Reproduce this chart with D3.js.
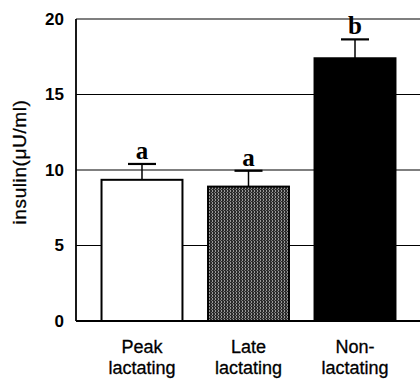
<!DOCTYPE html>
<html>
<head>
<meta charset="utf-8">
<script src="https://cdn.jsdelivr.net/npm/d3@7"></script>
<style>
  body { margin: 0; background: #fff; }
  .tick text { font-family: "Liberation Sans", Arial, sans-serif; font-weight: bold; }
</style>
</head>
<body>
<div id="chart"></div>
<script>
// data
const groups = ["Peak lactating", "Late lactating", "Non-lactating"]
const labelLines = [["Peak", "lactating"], ["Late", "lactating"], ["Non-", "lactating"]]
const means = [9.35, 8.9, 17.4]
const errors = [1.05, 1.05, 1.25]
const letters = ["a", "a", "b"]
const yTicks = [0, 5, 10, 15, 20]

const svgWidth = 420
const svgHeight = 385
let margin = { top: 19, right: 0, bottom: 64, left: 76 }
let width = svgWidth - margin.left - margin.right
let height = svgHeight - margin.top - margin.bottom

let svg = d3.select("#chart").append("svg")
  .attr("width", svgWidth)
  .attr("height", svgHeight)

// stippled fill for the middle bar
let defs = svg.append("defs")
let pat = defs.append("pattern")
  .attr("id", "stipple")
  .attr("width", 3).attr("height", 3)
  .attr("patternUnits", "userSpaceOnUse")
pat.append("rect").attr("width", 3).attr("height", 3).attr("fill", "#2a2a2a")
pat.append("rect").attr("x", 1).attr("y", 0).attr("width", 1).attr("height", 2).attr("fill", "#9a9a9a")
pat.append("rect").attr("x", 0).attr("y", 2).attr("width", 1).attr("height", 1).attr("fill", "#777")

let chartGroup = svg.append("g")
  .attr("transform", `translate(${margin.left}, ${margin.top})`)

let x = d3.scaleBand()
  .domain(groups)
  .range([17, 328])
  .paddingInner(0.24)
  .paddingOuter(0.08)

let y = d3.scaleLinear()
  .domain([0, 20])
  .range([height, 0])

// gridlines
chartGroup.selectAll(".grid")
  .data(yTicks.filter(d => d > 0))
  .enter().append("line")
  .attr("x1", 0).attr("x2", width)
  .attr("y1", d => y(d)).attr("y2", d => y(d))
  .attr("stroke", "#000").attr("stroke-width", 1.2)

// y axis
let yAxis = chartGroup.append("g")
  .call(d3.axisLeft(y).tickValues(yTicks).tickSize(0).tickPadding(12))
yAxis.select(".domain").remove()
yAxis.selectAll("text").attr("font-size", 17).attr("fill", "#000")

chartGroup.append("line")
  .attr("x1", 0).attr("x2", 0).attr("y1", 0).attr("y2", height)
  .attr("stroke", "#000").attr("stroke-width", 1.8)
chartGroup.append("line")
  .attr("x1", 0).attr("x2", width).attr("y1", height).attr("y2", height)
  .attr("stroke", "#000").attr("stroke-width", 1.8)

// bars
const fills = ["#fff", "url(#stipple)", "#000"]
chartGroup.selectAll(".bar")
  .data(groups)
  .enter().append("rect")
  .attr("x", d => x(d))
  .attr("y", (d, i) => y(means[i]))
  .attr("width", x.bandwidth())
  .attr("height", (d, i) => height - y(means[i]))
  .attr("fill", (d, i) => fills[i])
  .attr("stroke", "#000")
  .attr("stroke-width", 2)

// error bars
let eb = chartGroup.selectAll(".err")
  .data(groups)
  .enter().append("g")
eb.append("line")
  .attr("x1", d => x(d) + x.bandwidth() / 2)
  .attr("x2", d => x(d) + x.bandwidth() / 2)
  .attr("y1", (d, i) => y(means[i]))
  .attr("y2", (d, i) => y(means[i] + errors[i]))
  .attr("stroke", "#000").attr("stroke-width", 1.5)
eb.append("line")
  .attr("x1", d => x(d) + x.bandwidth() / 2 - 14)
  .attr("x2", d => x(d) + x.bandwidth() / 2 + 14)
  .attr("y1", (d, i) => y(means[i] + errors[i]))
  .attr("y2", (d, i) => y(means[i] + errors[i]))
  .attr("stroke", "#000").attr("stroke-width", 2.2)

// significance letters
chartGroup.selectAll(".sig")
  .data(groups)
  .enter().append("text")
  .attr("x", d => x(d) + x.bandwidth() / 2)
  .attr("y", (d, i) => y(means[i] + errors[i]) - 5)
  .attr("text-anchor", "middle")
  .attr("font-family", "Liberation Serif, Times New Roman, serif")
  .attr("font-weight", "bold")
  .attr("font-size", 25)
  .text((d, i) => letters[i])

// x labels
let xl = chartGroup.selectAll(".xl")
  .data(groups)
  .enter().append("text")
  .attr("text-anchor", "middle")
  .attr("font-family", "Liberation Sans, Arial, sans-serif")
  .attr("font-size", 18)
  .attr("stroke", "#000").attr("stroke-width", 0.3)
  .attr("x", d => x(d) + x.bandwidth() / 2)
xl.selectAll("tspan")
  .data((d, i) => labelLines[i])
  .enter().append("tspan")
  .attr("x", function() { return d3.select(this.parentNode).attr("x") })
  .attr("y", (d, j) => height + 32 + j * 21)
  .text(d => d)

// y label
svg.append("text")
  .attr("transform", `translate(26, ${margin.top + height / 2 - 8}) rotate(-90)`)
  .attr("text-anchor", "middle")
  .attr("font-family", "Liberation Sans, Arial, sans-serif")
  .attr("font-size", 19)
  .attr("letter-spacing", 0.6)
  .attr("stroke", "#000").attr("stroke-width", 0.3)
  .text("insulin(\u03bcU/ml)")
</script>
</body>
</html>
